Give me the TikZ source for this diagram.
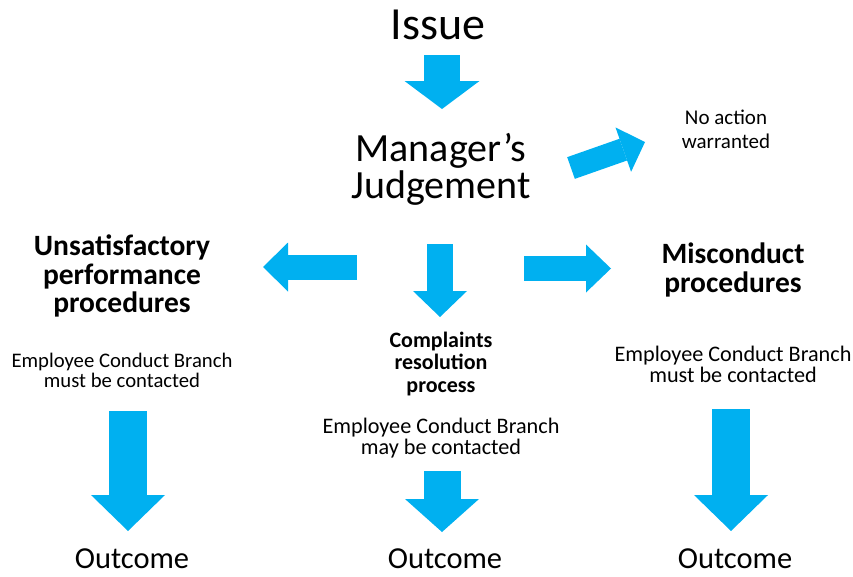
\documentclass[tikz,border=0pt]{standalone}
\usepackage{fontspec}
\setmainfont{Carlito}
\usetikzlibrary{arrows.meta}
\definecolor{arrowblue}{HTML}{00B0F0}

\tikzset{
  txt/.style={align=center, inner sep=0pt},
  big/.style={txt, font=\fontsize{40}{37}\selectfont},
  head/.style={txt, font=\fontsize{29.5}{28.5}\selectfont\bfseries},
  small/.style={txt, font=\fontsize{22.2}{21}\selectfont},
  outcome/.style={txt, font=\fontsize{30.5}{31}\selectfont},
  barrow/.style n args={3}{draw=arrowblue, line width=#1,
    -{Triangle[width=#2, length=#3, line width=0pt]}},
}

\begin{document}
\begin{tikzpicture}[x=1pt, y=-1pt]
\useasboundingbox (0,0) rectangle (853,576);
% top of the chart
\node[big, font=\fontsize{46}{46}\selectfont] (issue) at (438,25) {Issue};
\node[big] (judge) at (441,169) {Manager’s\\Judgement};
\node[small, font=\fontsize{21}{24}\selectfont] (noaction) at (726,129) {No action\\warranted};
% three procedures
\node[head] (unsat) at (122,276) {Unsatisfactory\\performance\\procedures};
\node[head, font=\fontsize{22}{22.5}\selectfont\bfseries] (complaint) at (441,364) {Complaints\\resolution\\process};
\node[head] (miscond) at (733,270) {Misconduct\\procedures};
\node[small, font=\fontsize{20.7}{20}\selectfont] (ecbleft) at (122,370) {Employee Conduct Branch\\must be contacted};
\node[small] (ecbmid) at (441,438) {Employee Conduct Branch\\may be contacted};
\node[small] (ecbright) at (733,364) {Employee Conduct Branch\\must be contacted};
% outcomes
\node[outcome] (outleft) at (132,559) {Outcome};
\node[outcome] (outmid) at (445,559) {Outcome};
\node[outcome] (outright) at (735,559) {Outcome};

% arrow ends
\coordinate (a1) at (442,55);   \coordinate (b1) at (442,109);
\coordinate (a2) at (571,168);  \coordinate (b2) at (645,142);
\coordinate (a3) at (357,267);  \coordinate (b3) at (263,267);
\coordinate (a4) at (440,244);  \coordinate (b4) at (440,317);
\coordinate (a5) at (524,268.5);\coordinate (b5) at (611,268.5);
\coordinate (a6) at (128,411);  \coordinate (b6) at (128,531);
\coordinate (a7) at (442,471);  \coordinate (b7) at (442,532);
\coordinate (a8) at (731,409);  \coordinate (b8) at (731,531);

\draw[barrow={36pt}{75pt}{28pt}] (a1) -- (b1);
\draw[barrow={23pt}{47pt}{23pt}] (a2) -- (b2);
\draw[barrow={25pt}{49pt}{25pt}] (a3) -- (b3);
\draw[barrow={26pt}{54pt}{26pt}] (a4) -- (b4);
\draw[barrow={25pt}{48pt}{25pt}] (a5) -- (b5);
\draw[barrow={38pt}{74pt}{36pt}] (a6) -- (b6);
\draw[barrow={37pt}{74pt}{33pt}] (a7) -- (b7);
\draw[barrow={38pt}{74pt}{36pt}] (a8) -- (b8);
\end{tikzpicture}
\end{document}
